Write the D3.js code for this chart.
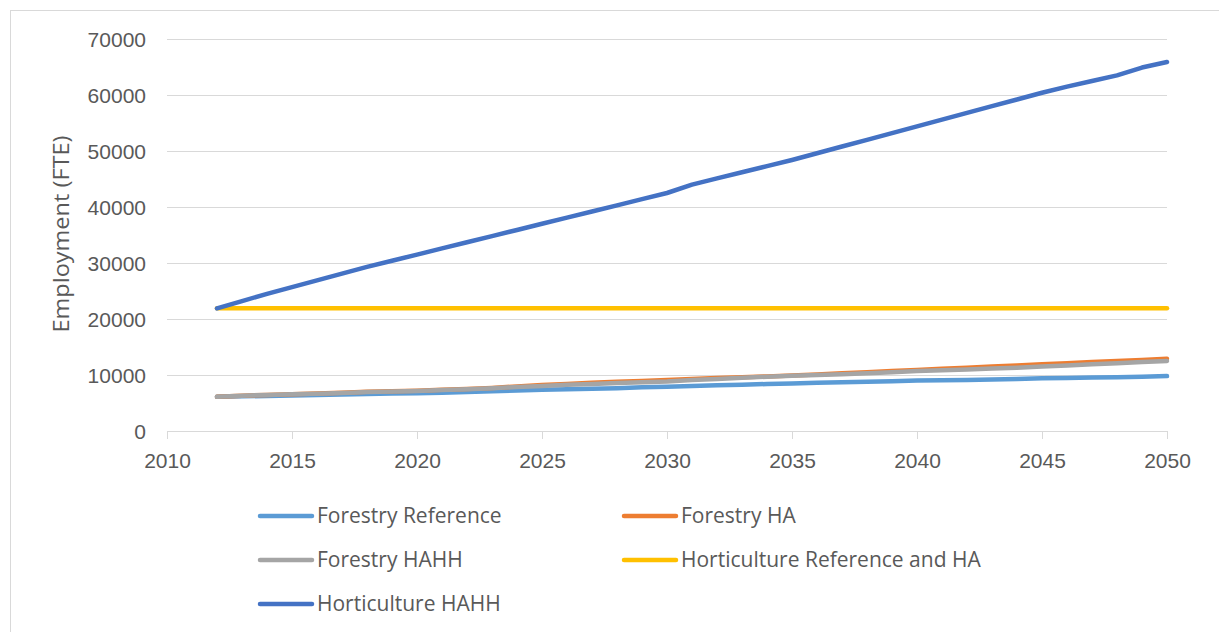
<!DOCTYPE html>
<html>
<head>
<meta charset="utf-8">
<style>
  body { margin: 0; background: #fff; }
  svg { display: block; font-family: "Open Sans", sans-serif; }
  .tick text { fill: #595959; font-size: 21px; }
  .grid line { stroke: #d9d9d9; }
  .legend text { fill: #595959; font-size: 21px; }
</style>
<script src="https://cdn.jsdelivr.net/npm/d3@7"></script>
</head>
<body>
<svg id="chart"></svg>
<script>
var width = 1219;
var height = 632;

var years = [2012, 2013, 2014, 2015, 2016, 2017, 2018, 2019, 2020, 2021,
  2022, 2023, 2024, 2025, 2026, 2027, 2028, 2029, 2030, 2031,
  2032, 2033, 2034, 2035, 2036, 2037, 2038, 2039, 2040, 2041,
  2042, 2043, 2044, 2045, 2046, 2047, 2048, 2049, 2050];

var forestryReference = [6100, 6200, 6250, 6350, 6450, 6500, 6600, 6700, 6750, 6850,
  6950, 7100, 7250, 7350, 7450, 7550, 7650, 7800, 7900, 8050,
  8150, 8250, 8400, 8500, 8600, 8700, 8800, 8900, 9000, 9050,
  9100, 9200, 9300, 9400, 9450, 9550, 9600, 9700, 9800];

var forestryHA = [6100, 6300, 6450, 6550, 6700, 6850, 7000, 7100, 7200, 7350,
  7500, 7700, 7950, 8200, 8400, 8600, 8800, 8950, 9100, 9300,
  9450, 9600, 9750, 9900, 10100, 10300, 10500, 10700, 10900, 11100,
  11300, 11500, 11700, 11900, 12100, 12300, 12500, 12700, 12900];

var forestryHAHH = [6100, 6300, 6450, 6550, 6650, 6800, 6950, 7050, 7150, 7300,
  7450, 7650, 7850, 8050, 8250, 8400, 8550, 8700, 8850, 9100,
  9300, 9500, 9700, 9850, 10000, 10150, 10300, 10500, 10700, 10850,
  11000, 11150, 11300, 11500, 11700, 11900, 12100, 12300, 12500];

var horticultureRefHA = [21900, 21900, 21900, 21900, 21900, 21900, 21900, 21900, 21900, 21900,
  21900, 21900, 21900, 21900, 21900, 21900, 21900, 21900, 21900, 21900,
  21900, 21900, 21900, 21900, 21900, 21900, 21900, 21900, 21900, 21900,
  21900, 21900, 21900, 21900, 21900, 21900, 21900, 21900, 21900];

var horticultureHAHH = [21900, 23200, 24500, 25700, 26900, 28100, 29300, 30400, 31500, 32600,
  33700, 34800, 35900, 37000, 38100, 39200, 40300, 41400, 42500, 44000,
  45100, 46200, 47300, 48400, 49600, 50800, 52000, 53200, 54400, 55600,
  56800, 58000, 59200, 60400, 61500, 62500, 63500, 64900, 65900];

var seriesNames = ["Forestry Reference", "Forestry HA", "Forestry HAHH",
  "Horticulture Reference and HA", "Horticulture HAHH"];
var seriesColors = ["#5b9bd5", "#ed7d31", "#a5a5a5", "#ffc000", "#4472c4"];
var seriesValues = [forestryReference, forestryHA, forestryHAHH, horticultureRefHA, horticultureHAHH];

var xTicks = [2010, 2015, 2020, 2025, 2030, 2035, 2040, 2045, 2050];
var yTicks = [0, 10000, 20000, 30000, 40000, 50000, 60000, 70000];

var svg = d3.select("#chart").attr("width", width).attr("height", height);

// chart frame (runs off the right and bottom of the picture)
svg.append("rect")
  .attr("x", 10.5).attr("y", 10.5)
  .attr("width", 1300).attr("height", 700)
  .attr("fill", "#fff").attr("stroke", "#d9d9d9");

var x = d3.scaleLinear().domain([2010, 2050]).range([167, 1167]);
var y = d3.scaleLinear().domain([0, 70000]).range([431, 39]);

// gridlines + y labels
var yAxis = svg.append("g")
  .attr("class", "grid")
  .attr("transform", "translate(167,0)")
  .call(d3.axisLeft(y).tickValues(yTicks).tickSize(-1000).tickPadding(21).tickFormat(d3.format("d")));
yAxis.select(".domain").remove();
yAxis.selectAll(".tick text").attr("dy", "0.35em");

// x axis
var xAxis = svg.append("g")
  .attr("transform", "translate(0,431)")
  .call(d3.axisBottom(x).tickValues(xTicks).tickSize(8).tickPadding(14).tickFormat(d3.format("d")));
xAxis.select(".domain").attr("stroke", "#d9d9d9").attr("d", "M167,0.5H1167");
xAxis.selectAll(".tick line").attr("stroke", "#d9d9d9");
xAxis.selectAll(".tick text").attr("dy", "0.71em");

// y axis title
svg.append("text")
  .attr("transform", "translate(69,234) rotate(-90)")
  .attr("text-anchor", "middle")
  .attr("fill", "#595959")
  .style("font-size", "22px")
  .attr("textLength", 197)
  .attr("lengthAdjust", "spacingAndGlyphs")
  .text("Employment (FTE)");

var line = d3.line()
  .x(function(d, i) { return x(years[i]); })
  .y(function(d) { return y(d); });

svg.append("g").selectAll("path")
  .data(seriesValues)
  .join("path")
    .attr("d", line)
    .attr("fill", "none")
    .attr("stroke", function(d, i) { return seriesColors[i]; })
    .attr("stroke-width", 4.5)
    .attr("stroke-linecap", "round")
    .attr("stroke-linejoin", "round");

// legend, two columns
var legend = svg.append("g").attr("class", "legend")
  .selectAll("g")
  .data(seriesNames)
  .join("g")
    .attr("transform", function(d, i) {
      return "translate(" + (i % 2 ? 622 : 258) + "," + (516 + Math.floor(i / 2) * 44) + ")";
    });

legend.append("line")
  .attr("x1", 2).attr("x2", 54)
  .attr("stroke", function(d, i) { return seriesColors[i]; })
  .attr("stroke-width", 4.5)
  .attr("stroke-linecap", "round");

legend.append("text")
  .attr("x", 59)
  .attr("dy", "0.35em")
  .text(function(d) { return d; });
</script>
</body>
</html>
